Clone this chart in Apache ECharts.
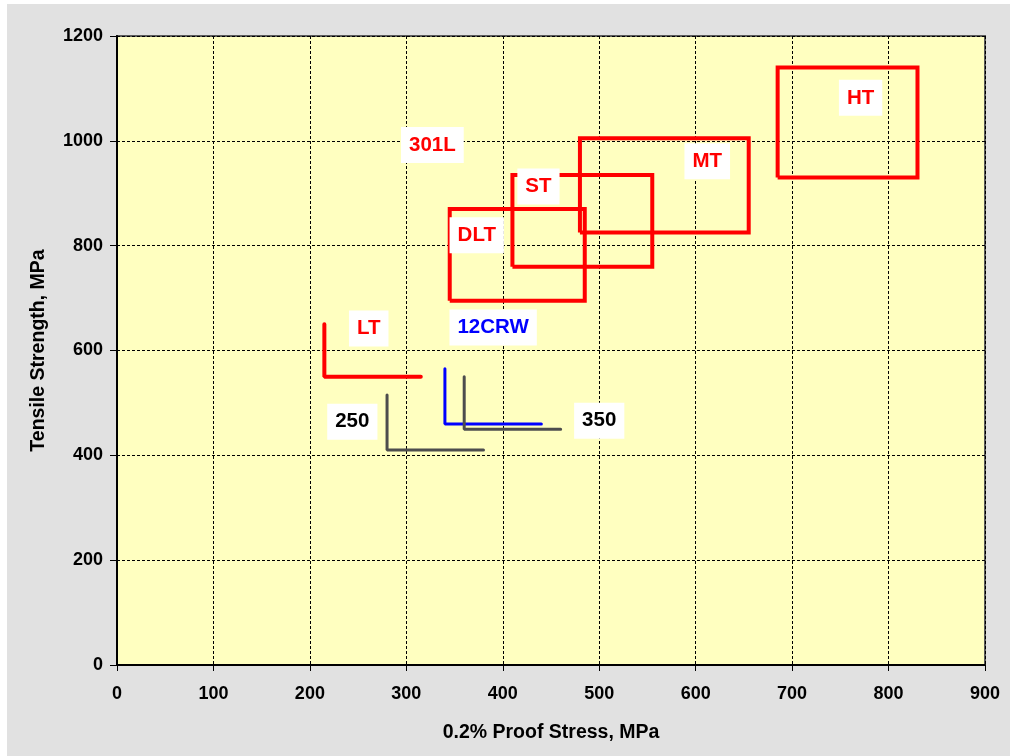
<!DOCTYPE html>
<html>
<head>
<meta charset="utf-8">
<script src="https://cdn.jsdelivr.net/npm/echarts@6/dist/echarts.min.js"></script>
<style>
    html, body { margin: 0; padding: 0; background: #fff; }
    .EC { position: absolute; left: 7px; top: 4px; width: 1003px; height: 752px; }
</style>
</head>
<body>
<div class="EC"></div>
<script>
// Axis ranges and ticks
const xTicks = [0, 900, 100]
const yTicks = [0, 1200, 200]

// Grade boxes: [proofMin, proofMax, tensileMin, tensileMax]
const boxNames = ['HT', 'MT', 'ST', 'DLT']
const boxRanges = [
    [685, 830, 930, 1140],
    [480, 655, 825, 1005],
    [410, 555, 760, 935],
    [345, 485, 695, 870]
]

// Minimum-only grades: [proofMin, proofEnd, tensileMin, tensileTop]
const cornerNames = ['LT', '12CRW', '350', '250']
const cornerRanges = [
    [215, 315, 550, 650],
    [340, 440, 460, 565],
    [360, 460, 450, 550],
    [280, 380, 410, 515]
]
const cornerColors = ['#ff0000', '#0000ff', '#4d4d4d', '#4d4d4d']

// Text labels: [name, x, y]
const labelNames = ['301L', 'HT', 'MT', 'ST', 'DLT', 'LT', '12CRW', '250', '350']
const labelPos = [
    [327, 992], [771, 1082], [612, 961], [437, 913], [373, 820],
    [261, 642], [390, 644], [244, 464], [500, 466]
]
const labelColors = ['#ff0000', '#ff0000', '#ff0000', '#ff0000', '#ff0000',
    '#ff0000', '#0000ff', '#000000', '#000000']

window.onload = () => {
    let EC = echarts.init(document.querySelector('.EC'))
    const font = 'Liberation Sans, Arial, sans-serif'

    let series = []

    // Rectangles for the banded grades
    boxRanges.forEach((r, i) => {
        series.push({
            name: boxNames[i],
            type: 'line',
            symbol: 'none',
            silent: true,
            z: 3,
            lineStyle: { color: '#ff0000', width: 4, join: 'miter' },
            data: [[r[0], r[2]], [r[1], r[2]], [r[1], r[3]], [r[0], r[3]], [r[0], r[2]]]
        })
    })

    // L shapes for the open ended grades
    cornerRanges.forEach((r, i) => {
        series.push({
            name: cornerNames[i],
            type: 'line',
            symbol: 'none',
            silent: true,
            z: 3,
            lineStyle: { color: cornerColors[i], width: i == 0 ? 4 : 3, cap: 'round' },
            data: [[r[0], r[3]], [r[0], r[2]], [r[1], r[2]]]
        })
    })

    // Labels in white boxes
    series.push({
        type: 'scatter',
        symbolSize: 1,
        itemStyle: { color: 'rgba(0,0,0,0)', opacity: 1 },
        z: 5,
        silent: true,
        data: labelNames.map((n, i) => ({
            value: labelPos[i],
            label: {
                show: true,
                position: 'inside',
                formatter: n,
                color: labelColors[i],
                fontSize: 20.5,
                fontWeight: 'bold',
                fontFamily: font,
                backgroundColor: '#ffffff',
                padding: [8, 8, 7, 8]
            }
        }))
    })

    let option = {
        backgroundColor: '#e1e1e1',
        animation: false,
        grid: {
            left: 110,
            top: 32,
            right: 25,
            bottom: 91,
            show: true,
            backgroundColor: '#ffffc0',
            borderColor: '#5a5a5a',
            borderWidth: 2
        },
        xAxis: {
            type: 'value',
            min: xTicks[0],
            max: xTicks[1],
            interval: xTicks[2],
            name: '0.2% Proof Stress, MPa',
            nameLocation: 'middle',
            nameGap: 58,
            nameTextStyle: { fontSize: 19.5, fontWeight: 'bold', color: '#000', fontFamily: font },
            axisLine: { lineStyle: { color: '#000', width: 2 } },
            axisTick: { show: true, length: 6, lineStyle: { color: '#000', width: 1 } },
            axisLabel: { fontSize: 18, fontWeight: 'bold', color: '#000', margin: 20, fontFamily: font, formatter: v => String(v) },
            splitLine: { show: true, lineStyle: { color: '#000', width: 1, type: [3, 2] } }
        },
        yAxis: {
            type: 'value',
            min: yTicks[0],
            max: yTicks[1],
            interval: yTicks[2],
            name: 'Tensile Strength, MPa',
            nameLocation: 'middle',
            nameGap: 68,
            nameTextStyle: { fontSize: 19.5, fontWeight: 'bold', color: '#000', fontFamily: font },
            axisLine: { show: true, lineStyle: { color: '#000', width: 2 } },
            axisTick: { show: true, length: 7, lineStyle: { color: '#000', width: 1 } },
            axisLabel: { fontSize: 18, fontWeight: 'bold', color: '#000', margin: 14, fontFamily: font, formatter: v => String(v) },
            splitLine: { show: true, lineStyle: { color: '#000', width: 1, type: [3, 2] } }
        },
        series: series
    }
    EC.setOption(option)
}
</script>
</body>
</html>
